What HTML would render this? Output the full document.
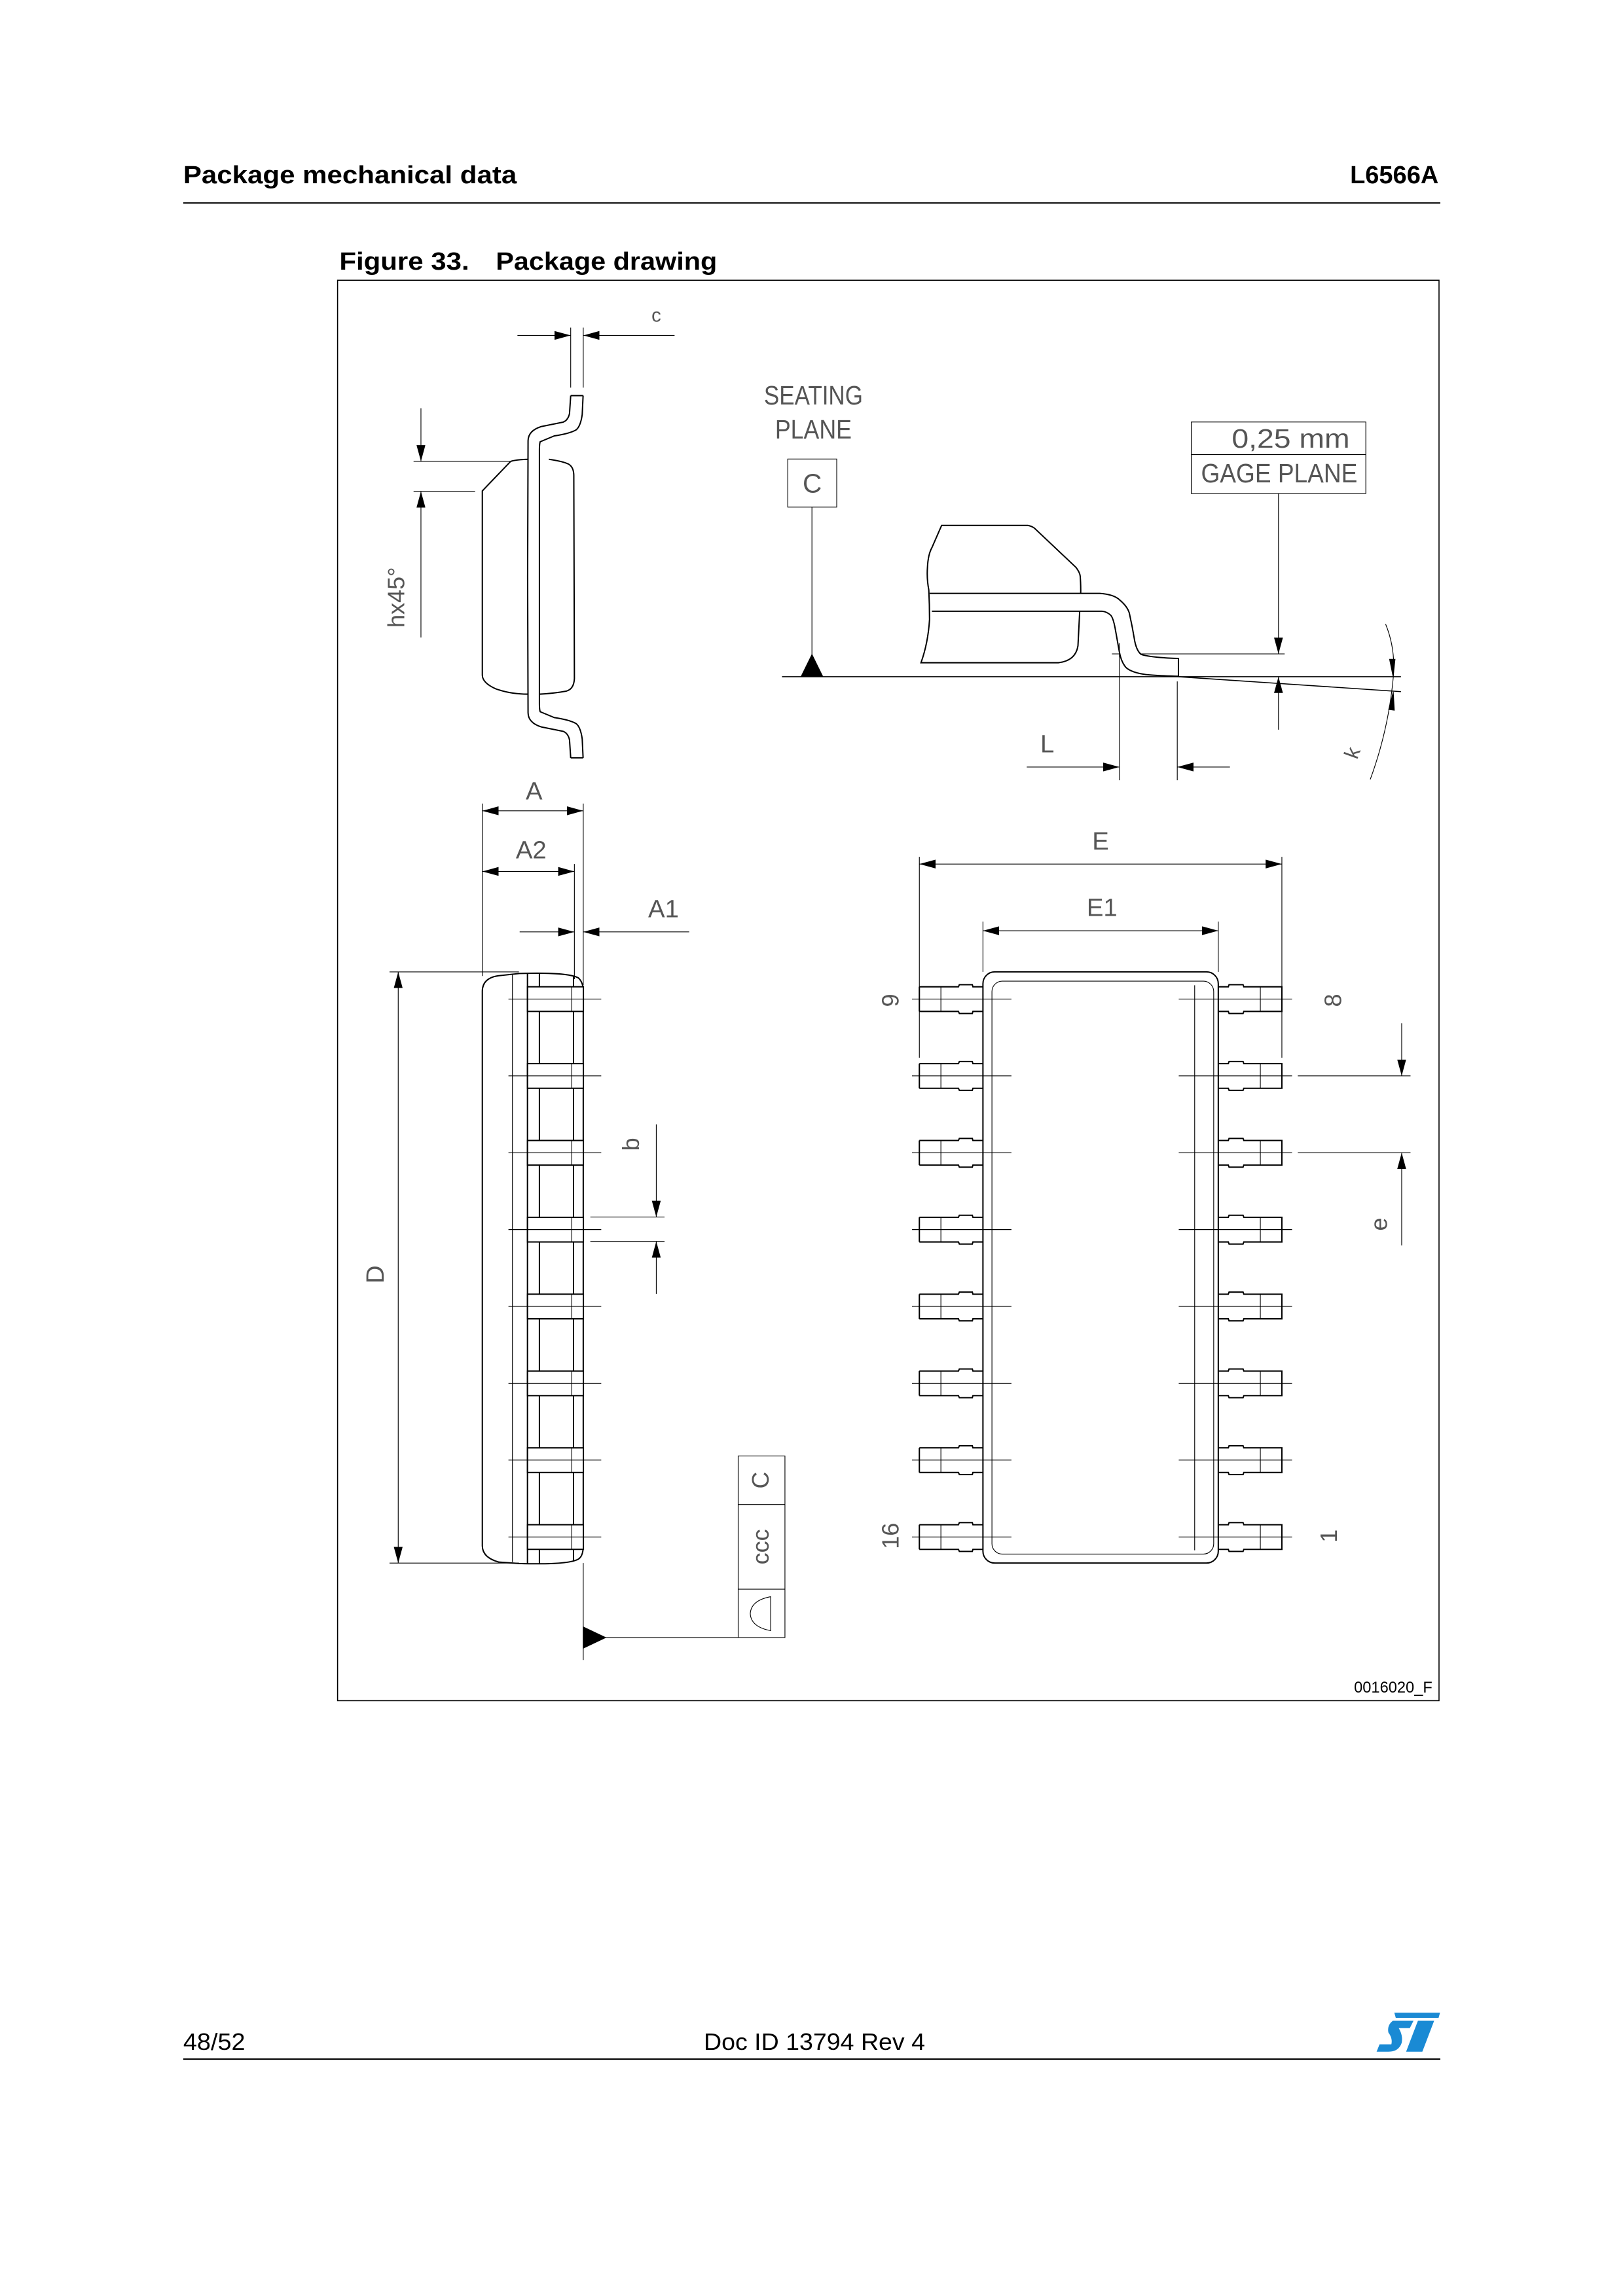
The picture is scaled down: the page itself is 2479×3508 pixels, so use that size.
<!DOCTYPE html>
<html><head><meta charset="utf-8"><style>
html,body{margin:0;padding:0;background:#fff}
svg{display:block}
.t{font-family:"Liberation Sans",sans-serif;fill:#000}
.d{font-family:"Liberation Sans Narrow","Liberation Sans",sans-serif;fill:#555;font-weight:normal}
</style></head><body>
<svg width="2479" height="3508" viewBox="0 0 1100 1556.6" preserveAspectRatio="none" xmlns="http://www.w3.org/2000/svg">
<defs>
<marker id="ar" markerUnits="userSpaceOnUse" markerWidth="11" markerHeight="6" refX="11" refY="3" orient="auto-start-reverse"><path d="M0,0 L11,3 L0,6 Z" fill="#000"/></marker>
</defs>
<rect width="1100" height="1556.6" fill="#fff"/>
<!-- header -->
<text class="t" x="124.2" y="124.3" font-size="17" font-weight="bold" textLength="226" lengthAdjust="spacingAndGlyphs">Package mechanical data</text>
<text class="t" x="975" y="124.3" font-size="17" font-weight="bold" text-anchor="end" textLength="60" lengthAdjust="spacingAndGlyphs">L6566A</text>
<line x1="124.2" y1="137.6" x2="976.2" y2="137.6" stroke="#000" stroke-width="0.9"/>
<text class="t" x="230" y="182.8" font-size="17" font-weight="bold" textLength="88" lengthAdjust="spacingAndGlyphs">Figure 33.</text>
<text class="t" x="336" y="182.8" font-size="17" font-weight="bold" textLength="150" lengthAdjust="spacingAndGlyphs">Package drawing</text>
<rect x="228.8" y="190" width="746.5" height="963" fill="none" stroke="#000" stroke-width="0.7"/>
<text class="t" x="970.8" y="1147.5" font-size="10.5" text-anchor="end">0016020_F</text>

<g fill="none" stroke="#000" stroke-width="0.5">
<line x1="386.8" y1="222.1" x2="386.8" y2="262.8"/>
<line x1="395.3" y1="222.1" x2="395.3" y2="262.8"/>
<line x1="350.7" y1="227.4" x2="386.8" y2="227.4" marker-end="url(#ar)"/>
<line x1="457.2" y1="227.4" x2="395.3" y2="227.4" marker-end="url(#ar)"/>
<path d="M346.1,312.8 Q350,311.6 357.9,311.4 M372,311.4 Q380,312.5 384.6,314.3 Q388.7,316 388.9,322 L389.3,460 Q389,467 384,468.5 Q376,470 366,470.6 M357.6,470.6 Q346,470.6 336,467 Q327,463 326.9,457.7 L326.9,332.8 L346.1,312.8" stroke-width="0.9"/>
<g id="ld" stroke-width="0.9">
<path d="M386.8,268.2 L395.2,268.2"/>
<path d="M386.8,268.2 L386,280.3 Q385,285 381.6,286.2 L366.8,289.2 Q358,292 357.9,298.8 L357.6,391"/>
<path d="M395.2,268.2 L394.6,281 Q393.5,289 390.5,291.4 Q386,294 375.7,295.5 L366.1,299.5 Q365.6,301 365.6,304.7 L365.6,391"/>
</g>
<use href="#ld" transform="translate(0,782) scale(1,-1)"/>
<line x1="280.3" y1="312.8" x2="346" y2="312.8"/>
<line x1="280.3" y1="333.1" x2="322" y2="333.1"/>
<line x1="285.3" y1="276.8" x2="285.3" y2="312.8" marker-end="url(#ar)"/>
<line x1="285.3" y1="432.2" x2="285.3" y2="333.1" marker-end="url(#ar)"/>

<rect x="533.9" y="311.2" width="33.2" height="32.6"/>
<line x1="550.3" y1="343.8" x2="550.3" y2="458.8"/>
<path d="M550.3,443.7 L542.9,458.8 L557.7,458.8 Z" fill="#000"/>
<line x1="530" y1="458.8" x2="949.5" y2="458.8" stroke-width="0.7"/>
<line x1="798.7" y1="458.8" x2="949.5" y2="468.9" stroke-width="0.7"/>
<rect x="807.4" y="286.1" width="118.3" height="48.5"/>
<line x1="807.4" y1="308.2" x2="925.7" y2="308.2"/>
<line x1="866.5" y1="334.6" x2="866.5" y2="443.3" marker-end="url(#ar)"/>
<line x1="866.5" y1="494.7" x2="866.5" y2="458.8" marker-end="url(#ar)"/>
<line x1="753.6" y1="443.3" x2="870.7" y2="443.3"/>
<path d="M638.2,356.2 L696.6,356.2 Q699,356.6 701,358 L729.2,384.6 Q731.8,388 732.1,390.5 Q733,402 731.8,414 L730.6,437.8 Q729,448 717.3,449.3 L624.2,449.3 Q629,436 630,420 Q630,410 629.5,400 Q628,392 628.6,384.6 Q629,376 631.6,371.3 Z" fill="#fff" stroke-width="0.9"/>
<path d="M630,402.3 L745.4,402.3 Q755,403 758.8,406.7 Q764,411 765.4,415.6 Q767.5,425 769.1,434.8 Q770.5,441.5 773.5,443.7 Q780,445.8 798.7,446.4 L798.7,458.5 Q783,458 776.5,457.3 Q767,456 763.2,452.6 Q760,449 758.7,442.2 L755.8,426 Q754.5,419 752.8,417.1 Q750,414.6 746.9,414.4 L631.6,414.4" fill="#fff" stroke-width="0.9"/>
<line x1="758.7" y1="436" x2="758.7" y2="529"/>
<line x1="797.9" y1="462" x2="797.9" y2="529"/>
<line x1="695.9" y1="520" x2="758.7" y2="520" marker-end="url(#ar)"/>
<line x1="833.6" y1="520" x2="797.9" y2="520" marker-end="url(#ar)"/>
<path d="M939.1,423.1 Q946,440 944.3,459.3 Q941,495 928.7,528.4"/>
<path d="M941.8,447 L945.5,447 L944.2,458.8 Z" fill="#000"/>
<path d="M941.2,481 L945,481.5 L944.3,469 Z" fill="#000"/>

<line x1="326.9" y1="544.8" x2="326.9" y2="661.7"/>
<line x1="395.3" y1="544.8" x2="395.3" y2="667.9"/>
<line x1="389.3" y1="585.8" x2="389.3" y2="663.8"/>
<line x1="326.9" y1="549.7" x2="395.3" y2="549.7" marker-start="url(#ar)" marker-end="url(#ar)"/>
<line x1="326.9" y1="590.8" x2="389.3" y2="590.8" marker-start="url(#ar)" marker-end="url(#ar)"/>
<line x1="352.2" y1="631.8" x2="389.3" y2="631.8" marker-end="url(#ar)"/>
<line x1="467.1" y1="631.8" x2="395.3" y2="631.8" marker-end="url(#ar)"/>
<line x1="264" y1="658.9" x2="351.7" y2="658.9"/>
<line x1="264" y1="1059.7" x2="351.7" y2="1059.7"/>
<line x1="269.9" y1="658.9" x2="269.9" y2="1059.7" marker-start="url(#ar)" marker-end="url(#ar)"/>
<path d="M338,661.5 L352,660 Q385,659 392,663 Q395.3,666 395.3,672 L395.3,1048 Q395.3,1055 392,1057 Q385,1061 352,1060 L338,1059 Q327,1056 326.9,1048 L326.9,672 Q327,663 338,661.5 Z" stroke-width="0.9"/>
<line x1="347.3" y1="661" x2="347.3" y2="1059"/>
<line x1="357.5" y1="660" x2="357.5" y2="1060" stroke-width="0.9"/>
<line x1="388.7" y1="662" x2="388.7" y2="1058" stroke-width="0.9"/>
<line x1="365.6" y1="660" x2="365.6" y2="1060" stroke-width="0.9"/>
<g id="sl">
<rect x="357.5" y="669" width="37.9" height="16.7" fill="#fff" stroke-width="0.9"/>
<line x1="387.5" y1="669" x2="387.5" y2="685.7"/>
<line x1="344.6" y1="677.3" x2="407.5" y2="677.3"/>
</g>
<use href="#sl" transform="translate(0,52.1)"/>
<use href="#sl" transform="translate(0,104.2)"/>
<use href="#sl" transform="translate(0,156.3)"/>
<use href="#sl" transform="translate(0,208.4)"/>
<use href="#sl" transform="translate(0,260.5)"/>
<use href="#sl" transform="translate(0,312.6)"/>
<use href="#sl" transform="translate(0,364.7)"/>
<line x1="400.1" y1="825.1" x2="450.4" y2="825.1"/>
<line x1="400.1" y1="841.6" x2="450.4" y2="841.6"/>
<line x1="444.8" y1="762.3" x2="444.8" y2="825.1" marker-end="url(#ar)"/>
<line x1="444.8" y1="877.2" x2="444.8" y2="841.6" marker-end="url(#ar)"/>
<line x1="395.3" y1="1059.7" x2="395.3" y2="1125.4"/>
<path d="M395.3,1103 L410.5,1110.2 L395.3,1117.4 Z" fill="#000"/>
<line x1="410" y1="1110.2" x2="500.3" y2="1110.2"/>
<rect x="500.3" y="987.1" width="31.7" height="123.1"/>
<line x1="500.3" y1="1020" x2="532" y2="1020"/>
<line x1="500.3" y1="1077.4" x2="532" y2="1077.4"/>
<path d="M522.3,1082.5 L522.3,1105.5 Q509,1103 508.5,1094 Q509,1085 522.3,1082.5 Z"/>

<line x1="623.1" y1="580.9" x2="623.1" y2="717.1"/>
<line x1="868.8" y1="580.9" x2="868.8" y2="717.1"/>
<line x1="623.1" y1="585.8" x2="868.8" y2="585.8" marker-start="url(#ar)" marker-end="url(#ar)"/>
<line x1="666.2" y1="624.8" x2="666.2" y2="658.9"/>
<line x1="825.7" y1="624.8" x2="825.7" y2="658.9"/>
<line x1="666.2" y1="631" x2="825.7" y2="631" marker-start="url(#ar)" marker-end="url(#ar)"/>
<rect x="666.2" y="658.9" width="159.5" height="400.8" rx="8" stroke-width="0.9"/>
<rect x="672.3" y="665.2" width="150.3" height="388.4" rx="7"/>
<line x1="809.7" y1="668" x2="809.7" y2="1051"/>
<g id="tl">
<path d="M623.1,669 L649.6,669 L650.2,667.6 L659,667.6 L659.4,669 L666.2,669 M623.1,685.7 L649.6,685.7 L650.2,687.1 L659,687.1 L659.4,685.7 L666.2,685.7 M623.1,669 L623.1,685.7" stroke-width="0.9"/>
<line x1="637.7" y1="669" x2="637.7" y2="685.7"/>
<line x1="618.1" y1="677.3" x2="685.5" y2="677.3"/>
<path d="M825.7,669 L832.5,669 L833,667.6 L842.5,667.6 L843,669 L868.8,669 L868.8,685.7 L843,685.7 L842.5,687.1 L833,687.1 L832.5,685.7 L825.7,685.7" stroke-width="0.9"/>
<line x1="854.2" y1="669" x2="854.2" y2="685.7"/>
<line x1="798.9" y1="677.3" x2="875.7" y2="677.3"/>
</g>
<use href="#tl" transform="translate(0,52.1)"/>
<use href="#tl" transform="translate(0,104.2)"/>
<use href="#tl" transform="translate(0,156.3)"/>
<use href="#tl" transform="translate(0,208.4)"/>
<use href="#tl" transform="translate(0,260.5)"/>
<use href="#tl" transform="translate(0,312.6)"/>
<use href="#tl" transform="translate(0,364.7)"/>
<line x1="879.6" y1="729.4" x2="956" y2="729.4"/>
<line x1="879.6" y1="781.5" x2="956" y2="781.5"/>
<line x1="950" y1="693.7" x2="950" y2="729.4" marker-end="url(#ar)"/>
<line x1="950" y1="844.3" x2="950" y2="781.5" marker-end="url(#ar)"/>
</g>

<g class="d">
<text x="444.8" y="218" font-size="13" text-anchor="middle">c</text>
<text x="0" y="0" font-size="16" text-anchor="middle" transform="translate(274,405) rotate(-90)">hx45°</text>
<text x="551.3" y="274.3" font-size="18" text-anchor="middle" textLength="67" lengthAdjust="spacingAndGlyphs">SEATING</text>
<text x="551.3" y="297.2" font-size="18" text-anchor="middle" textLength="52" lengthAdjust="spacingAndGlyphs">PLANE</text>
<text x="550.5" y="334" font-size="18" text-anchor="middle">C</text>
<text x="914.8" y="303.5" font-size="18" text-anchor="end" textLength="80" lengthAdjust="spacingAndGlyphs">0,25  mm</text>
<text x="920" y="327" font-size="18" text-anchor="end" textLength="106" lengthAdjust="spacingAndGlyphs">GAGE  PLANE</text>
<text x="709.8" y="510" font-size="17" text-anchor="middle">L</text>
<text x="0" y="0" font-size="14" text-anchor="middle" transform="translate(921,512) rotate(-70)">k</text>
<text x="362" y="542" font-size="17" text-anchor="middle">A</text>
<text x="360" y="582" font-size="17" text-anchor="middle">A2</text>
<text x="449.7" y="622" font-size="17" text-anchor="middle">A1</text>
<text x="0" y="0" font-size="17" text-anchor="middle" transform="translate(260,864) rotate(-90)">D</text>
<text x="0" y="0" font-size="16" text-anchor="middle" transform="translate(433,775.8) rotate(-90)">b</text>
<text x="0" y="0" font-size="16" text-anchor="middle" transform="translate(521,1003.5) rotate(-90)">C</text>
<text x="0" y="0" font-size="16" text-anchor="middle" transform="translate(521,1048.7) rotate(-90)">ccc</text>
<text x="745.9" y="576" font-size="17" text-anchor="middle">E</text>
<text x="746.9" y="621" font-size="17" text-anchor="middle">E1</text>
<text x="0" y="0" font-size="16" text-anchor="middle" transform="translate(940,830) rotate(-90)">e</text>
<text x="0" y="0" font-size="16" text-anchor="middle" transform="translate(609,678.2) rotate(-90)">9</text>
<text x="0" y="0" font-size="16" text-anchor="middle" transform="translate(909,678.2) rotate(-90)">8</text>
<text x="0" y="0" font-size="16" text-anchor="middle" transform="translate(609,1041.3) rotate(-90)">16</text>
<text x="0" y="0" font-size="16" text-anchor="middle" transform="translate(906,1041.3) rotate(-90)">1</text>
</g>

<text class="t" x="124.2" y="1389.8" font-size="16" textLength="42" lengthAdjust="spacingAndGlyphs">48/52</text>
<text class="t" x="477" y="1389.8" font-size="16" textLength="150" lengthAdjust="spacingAndGlyphs">Doc ID 13794 Rev 4</text>
<line x1="124.2" y1="1396" x2="976.2" y2="1396" stroke="#000" stroke-width="0.9"/>
<g fill="#1a8ad4">
<path d="M945,1364.5 L976,1364.5 L975,1368 L946,1368 Z"/>
<path d="M944,1370 L958,1370 L955.5,1375 L948,1375 Q951,1380 950,1385 Q948,1391 941,1391 L933,1391 L935,1386 L943,1386 Q944,1382 941,1378 Q940,1373 944,1370 Z"/>
<path d="M961,1370 L972,1370 L964,1391 L953,1391 Z"/>
</g>
</svg>
</body></html>
